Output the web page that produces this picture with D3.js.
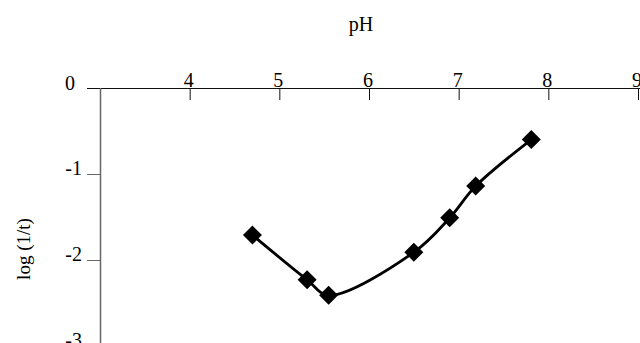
<!DOCTYPE html>
<html>
<head>
<meta charset="utf-8">
<script src="https://cdn.jsdelivr.net/npm/d3@7"></script>
<style>
body { margin: 0; background: #fff; }
text { font-family: "Liberation Serif", "Times New Roman", serif; fill: #000; }
</style>
</head>
<body>
<div id="chart"></div>
<script>
const width = 640, height = 343
const phValues = [4.70, 5.31, 5.55, 6.50, 6.90, 7.19, 7.81]
const logValues = [-1.71, -2.23, -2.41, -1.91, -1.51, -1.14, -0.60]
const xTicks = [4, 5, 6, 7, 8, 9]
const yTicks = [0, -1, -2, -3]

const x = d3.scaleLinear().domain([3, 9]).range([100, 638])
const y = d3.scaleLinear().domain([0, -3]).range([88, 346])

const svg = d3.select("#chart").append("svg")
    .attr("width", width)
    .attr("height", height)

// x axis sits on y=0 with labels above and ticks hanging below
const xAxis = svg.append("g")
    .attr("transform", `translate(0,${y(0)})`)
    .call(d3.axisBottom(x).tickValues(xTicks).tickSize(12).tickFormat(d => String(d)))
xAxis.select(".domain").attr("d", `M87,0.5H${width}`).attr("stroke", "#111")
xAxis.selectAll(".tick line").attr("stroke", "#111")
xAxis.selectAll(".tick text")
    .attr("x", -1.5)
    .attr("y", -1)
    .attr("dy", 0)
    .style("font-size", "20px")

// y axis
const yAxis = svg.append("g")
    .attr("transform", `translate(${x(3)},0)`)
    .call(d3.axisLeft(y).tickValues(yTicks).tickSize(13).tickFormat(d => String(d)))
yAxis.select(".domain").attr("d", `M0.5,${y(0)}V${height}`).attr("stroke", "#666").attr("stroke-width", 1.5)
yAxis.selectAll(".tick line").attr("stroke", "#666")
yAxis.selectAll(".tick line").filter(d => d === 0).remove()
yAxis.selectAll(".tick text")
    .attr("x", -18)
    .attr("y", 0)
    .attr("dy", 0)
    .style("font-size", "20px")
yAxis.selectAll(".tick text").filter(d => d === 0).attr("x", -25).attr("y", 1)

svg.append("text")
    .attr("x", 361)
    .attr("y", 31)
    .attr("text-anchor", "middle")
    .style("font-size", "20px")
    .text("pH")

svg.append("text")
    .attr("transform", "translate(30,249) rotate(-90)")
    .attr("text-anchor", "middle")
    .style("font-size", "19px")
    .text("log (1/t)")

const pts = phValues.map((p, i) => [p, logValues[i]])

svg.append("path")
    .datum(pts)
    .attr("fill", "none")
    .attr("stroke", "#000")
    .attr("stroke-width", 2.8)
    .attr("d", d3.line().x(d => x(d[0])).y(d => y(d[1])).curve(d3.curveCatmullRom))

svg.selectAll(".pt")
    .data(pts)
    .enter().append("path")
    .attr("class", "pt")
    .attr("transform", d => `translate(${x(d[0])},${y(d[1])})`)
    .attr("d", "M0,-9.5L9.5,0L0,9.5L-9.5,0Z")
    .attr("fill", "#000")
</script>
</body>
</html>
